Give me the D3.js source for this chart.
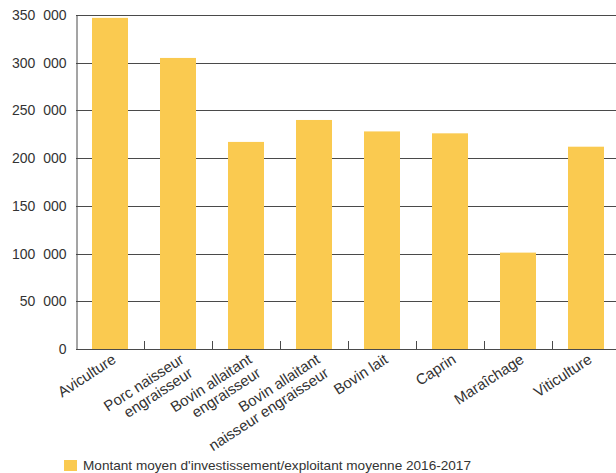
<!DOCTYPE html>
<html>
<head>
<meta charset="utf-8">
<script src="https://cdn.jsdelivr.net/npm/d3@7"></script>
<style>
  html, body { margin: 0; padding: 0; background: #fff; }
  svg { display: block; font-family: "Liberation Sans", Arial, Helvetica, sans-serif; }
</style>
</head>
<body>
<svg id="chart" width="616" height="473"></svg>
<script>
// Average investment per farm holder, by production type (2016-2017)
const categories = [
  ["Aviculture"],
  ["Porc naisseur", "engraisseur"],
  ["Bovin allaitant", "engraisseur"],
  ["Bovin allaitant", "naisseur engraisseur"],
  ["Bovin lait"],
  ["Caprin"],
  ["Maraîchage"],
  ["Viticulture"]
];
const values = [347000, 305000, 217000, 240000, 228000, 226000, 101000, 212000];
const yTicks = [0, 50000, 100000, 150000, 200000, 250000, 300000, 350000];
const legendLabel = "Montant moyen d'investissement/exploitant moyenne 2016-2017";

const svg = d3.select("#chart");
const plotLeft = 76, plotRight = 620, plotTop = 15, plotBottom = 349;
const textColor = "#333";

const keys = categories.map(c => c.join(" "));
const x = d3.scaleBand()
  .domain(keys)
  .range([plotLeft, plotRight])
  .paddingInner(32 / 68)
  .paddingOuter(16 / 68);
const step = x.step();

const y = d3.scaleLinear().domain([0, 350000]).range([plotBottom, plotTop]);

const fr = d3.formatLocale({ decimal: ",", thousands: "\u2007", grouping: [3], currency: ["", " €"] });
const fmt = fr.format(",d");

// horizontal gridlines
svg.append("g")
  .selectAll("line")
  .data(yTicks.filter(v => v > 0))
  .join("line")
  .attr("x1", plotLeft).attr("x2", 616)
  .attr("y1", d => Math.round(y(d)) + 0.5)
  .attr("y2", d => Math.round(y(d)) + 0.5)
  .attr("stroke", "#4a4a4a")
  .attr("stroke-width", 1);

// bars
svg.append("g")
  .selectAll("rect")
  .data(values)
  .join("rect")
  .attr("x", (d, i) => x(keys[i]))
  .attr("width", x.bandwidth())
  .attr("y", d => y(d))
  .attr("height", d => plotBottom - y(d))
  .attr("fill", "#FACA50");

// y axis
const yAxis = svg.append("g")
  .attr("transform", `translate(${plotLeft + 0.5},0)`)
  .call(d3.axisLeft(y).tickValues(yTicks).tickFormat(fmt).tickSize(0).tickPadding(10));
yAxis.select(".domain").attr("stroke", "#4a4a4a");
yAxis.selectAll("text")
  .attr("fill", textColor)
  .attr("font-size", 14)
  .attr("font-family", "\"Liberation Sans\", Arial, sans-serif");

// x axis baseline with inward ticks at band boundaries
const boundaries = d3.range(1, keys.length + 1).map(i => plotLeft + i * step);
const xg = svg.append("g");
xg.append("line")
  .attr("x1", plotLeft).attr("x2", 616)
  .attr("y1", plotBottom + 0.5).attr("y2", plotBottom + 0.5)
  .attr("stroke", "#4a4a4a");
xg.selectAll("line.tick")
  .data(boundaries)
  .join("line")
  .attr("class", "tick")
  .attr("x1", d => Math.round(d) + 0.5).attr("x2", d => Math.round(d) + 0.5)
  .attr("y1", plotBottom - 8).attr("y2", plotBottom)
  .attr("stroke", "#4a4a4a");

// rotated category labels
const lbl = xg.selectAll("text.cat")
  .data(categories)
  .join("text")
  .attr("class", "cat")
  .attr("transform", (d, i) => `translate(${x(keys[i]) + x.bandwidth() / 2 + 7},${plotBottom + 13}) rotate(-33)`)
  .attr("text-anchor", "end")
  .attr("font-size", 15)
  .attr("fill", textColor);
lbl.selectAll("tspan")
  .data(d => d)
  .join("tspan")
  .attr("x", 0)
  .attr("dy", (d, i) => i === 0 ? 0 : "1.08em")
  .text(d => d);

// legend
const lg = svg.append("g").attr("transform", "translate(64,460)");
lg.append("rect").attr("width", 13).attr("height", 11).attr("fill", "#FACA50");
lg.append("text")
  .attr("x", 19).attr("y", 10)
  .attr("font-size", 13.6)
  .attr("fill", textColor)
  .text(legendLabel);
</script>
</body>
</html>
